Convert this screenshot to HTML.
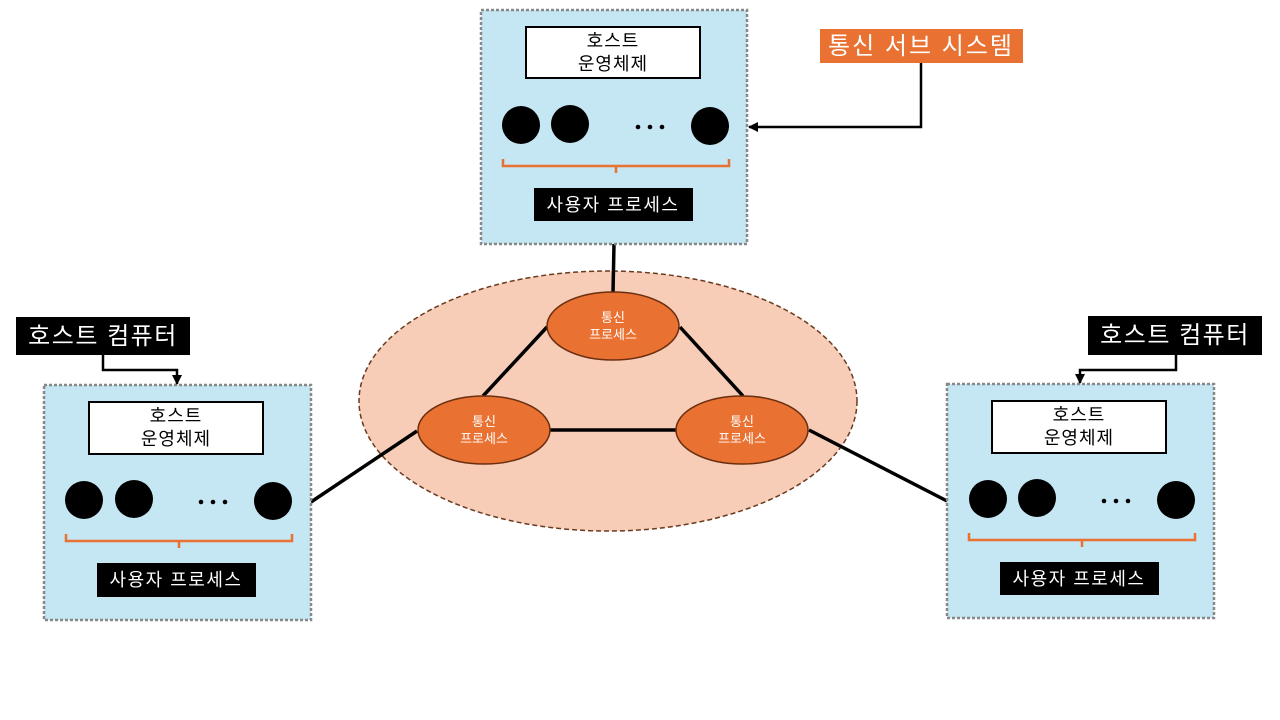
<!DOCTYPE html>
<html><head><meta charset="utf-8"><style>
html,body{margin:0;padding:0;background:#fff;width:1280px;height:720px;overflow:hidden}
text{font-family:"Liberation Sans","Noto Sans CJK KR",sans-serif;font-weight:400}
</style></head><body>
<svg width="1280" height="720" viewBox="0 0 1280 720" xmlns="http://www.w3.org/2000/svg">
<defs>
<marker id="ah" viewBox="0 0 10 10" refX="9" refY="5" markerWidth="4" markerHeight="4" orient="auto"><path d="M0,0 L10,5 L0,10 z" fill="#000"/></marker>
</defs>
<ellipse cx="608" cy="401" rx="249" ry="130" fill="#f7cdb8" stroke="#6b3a1f" stroke-width="1.5" stroke-dasharray="5,3"/>
<g stroke="#000" stroke-width="3.5" fill="none">
<line x1="614" y1="244" x2="613" y2="293"/>
<line x1="483" y1="396" x2="547" y2="327"/>
<line x1="680" y1="327" x2="743" y2="396"/>
<line x1="550" y1="430" x2="676" y2="430"/>
<line x1="417" y1="431" x2="311" y2="502"/>
<line x1="809" y1="430" x2="947" y2="501"/>
</g>
<g fill="#e97132" stroke="#6b2f10" stroke-width="1.5">
<ellipse cx="613" cy="326" rx="66" ry="34"/>
<ellipse cx="484" cy="430" rx="66" ry="34"/>
<ellipse cx="742" cy="430" rx="66" ry="34"/>
</g>
<g fill="#fff" font-size="13" text-anchor="middle">
<text x="613" y="322">통신</text><text x="613" y="339">프로세스</text>
<text x="484" y="426">통신</text><text x="484" y="443">프로세스</text>
<text x="742" y="426">통신</text><text x="742" y="443">프로세스</text>
</g>

<rect x="481" y="10" width="266" height="234" fill="#c5e6f3" stroke="#888" stroke-width="2.5" stroke-dasharray="3,2"/>
<rect x="526" y="27" width="174" height="51" fill="#fff" stroke="#000" stroke-width="2"/>
<text x="613" y="47" font-size="18" letter-spacing="1" text-anchor="middle">호스트</text>
<text x="613" y="70" font-size="18" letter-spacing="1" text-anchor="middle">운영체제</text>
<circle cx="521" cy="125" r="19"/><circle cx="570" cy="124" r="19"/><circle cx="710" cy="126" r="19"/>
<circle cx="638" cy="127" r="2.3"/><circle cx="650" cy="127" r="2.3"/><circle cx="662" cy="127" r="2.3"/>
<path d="M503,159 V166 H729 V159 M616,166 V173" stroke="#e97132" stroke-width="2.5" fill="none"/>
<rect x="534" y="188" width="159" height="33" fill="#000"/>
<text x="613" y="211" font-size="18" letter-spacing="1.5" fill="#fff" text-anchor="middle">사용자 프로세스</text>

<rect x="44" y="385" width="267" height="235" fill="#c5e6f3" stroke="#888" stroke-width="2.5" stroke-dasharray="3,2"/>
<rect x="89" y="402" width="174" height="52" fill="#fff" stroke="#000" stroke-width="2"/>
<text x="176" y="422" font-size="18" letter-spacing="1" text-anchor="middle">호스트</text>
<text x="176" y="445" font-size="18" letter-spacing="1" text-anchor="middle">운영체제</text>
<circle cx="84" cy="500" r="19"/><circle cx="134" cy="499" r="19"/><circle cx="273" cy="501" r="19"/>
<circle cx="201" cy="502" r="2.3"/><circle cx="213" cy="502" r="2.3"/><circle cx="225" cy="502" r="2.3"/>
<path d="M66,534 V541 H292 V534 M179,541 V548" stroke="#e97132" stroke-width="2.5" fill="none"/>
<rect x="97" y="563" width="159" height="34" fill="#000"/>
<text x="176" y="586" font-size="18" letter-spacing="1.5" fill="#fff" text-anchor="middle">사용자 프로세스</text>

<rect x="947" y="384" width="267" height="234" fill="#c5e6f3" stroke="#888" stroke-width="2.5" stroke-dasharray="3,2"/>
<rect x="992" y="401" width="174" height="52" fill="#fff" stroke="#000" stroke-width="2"/>
<text x="1079" y="421" font-size="18" letter-spacing="1" text-anchor="middle">호스트</text>
<text x="1079" y="444" font-size="18" letter-spacing="1" text-anchor="middle">운영체제</text>
<circle cx="988" cy="499" r="19"/><circle cx="1037" cy="498" r="19"/><circle cx="1176" cy="500" r="19"/>
<circle cx="1104" cy="501" r="2.3"/><circle cx="1116" cy="501" r="2.3"/><circle cx="1128" cy="501" r="2.3"/>
<path d="M969,533 V540 H1195 V533 M1082,540 V547" stroke="#e97132" stroke-width="2.5" fill="none"/>
<rect x="1000" y="562" width="159" height="33" fill="#000"/>
<text x="1079" y="585" font-size="18" letter-spacing="1.5" fill="#fff" text-anchor="middle">사용자 프로세스</text>

<rect x="16" y="317" width="174" height="38" fill="#000"/>
<text x="103" y="344" font-size="24" letter-spacing="1.5" fill="#fff" text-anchor="middle">호스트 컴퓨터</text>
<rect x="1088" y="316" width="174" height="39" fill="#000"/>
<text x="1175" y="343" font-size="24" letter-spacing="1.5" fill="#fff" text-anchor="middle">호스트 컴퓨터</text>
<rect x="820" y="29" width="203" height="34" fill="#e97132"/>
<text x="921" y="54" font-size="24" letter-spacing="2" fill="#fff" text-anchor="middle">통신 서브 시스템</text>

<g stroke="#000" stroke-width="2.5" fill="none" marker-end="url(#ah)">
<path d="M103,355 V370 H177 V384"/>
<path d="M1176,355 V370 H1080 V383"/>
<path d="M921,63 V127 H749"/>
</g>
</svg>
</body></html>
